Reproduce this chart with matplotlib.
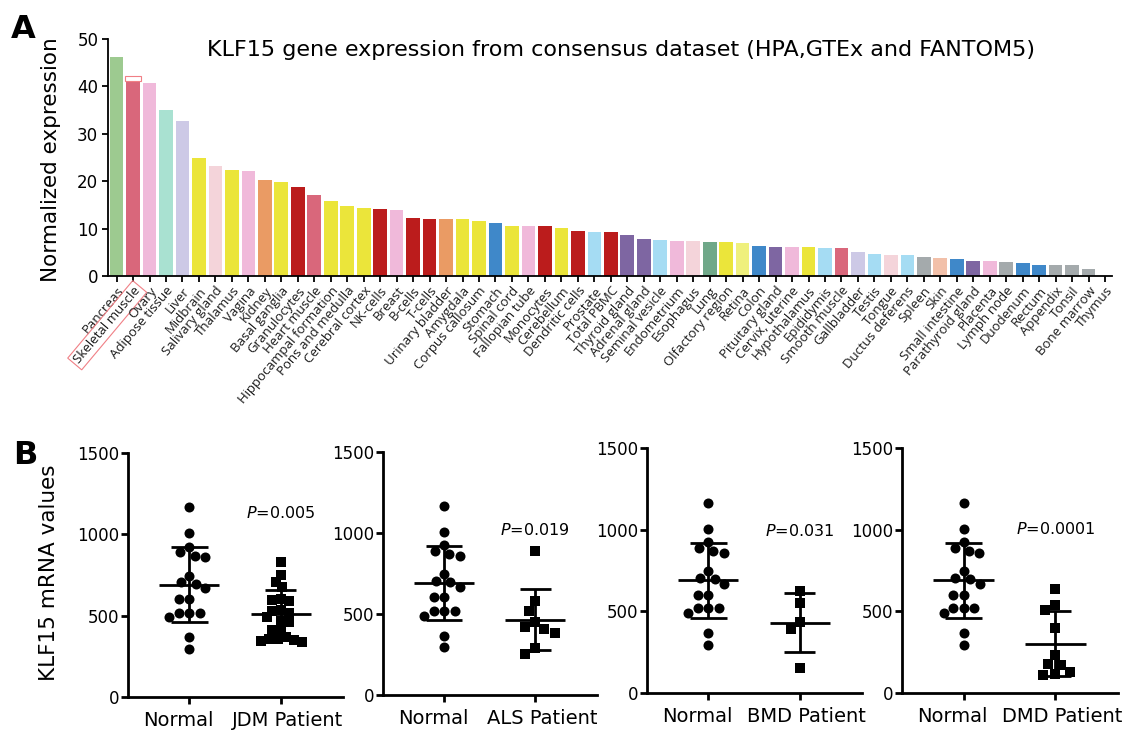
import numpy as np
import matplotlib
matplotlib.use("Agg")
import matplotlib.pyplot as plt
from matplotlib.patches import Rectangle
import matplotlib.transforms as mtransforms

# ---------------- Panel A data ----------------
tissues = ["Pancreas", "Skeletal muscle", "Ovary", "Adipose tissue", "Liver", "Midbrain",
           "Salivary gland", "Thalamus", "Vagina", "Kidney", "Basal ganglia", "Granulocytes",
           "Heart muscle", "Hippocampal formation", "Pons and medulla", "Cerebral cortex",
           "NK-cells", "Breast", "B-cells", "T-cells", "Urinary bladder", "Amygdala",
           "Corpus callosum", "Stomach", "Spinal cord", "Fallopian tube", "Monocytes",
           "Cerebellum", "Dendritic cells", "Prostate", "Total PBMC", "Thyroid gland",
           "Adrenal gland", "Seminal vesicle", "Endometrium", "Esophagus", "Lung",
           "Olfactory region", "Retina", "Colon", "Pituitary gland", "Cervix, uterine",
           "Hypothalamus", "Epididymis", "Smooth muscle", "Gallbladder", "Testis", "Tongue",
           "Ductus deferens", "Spleen", "Skin", "Small intestine", "Parathyroid gland",
           "Placenta", "Lymph node", "Duodenum", "Rectum", "Appendix", "Tonsil",
           "Bone marrow", "Thymus"]
expression = [46.3, 41.2, 40.7, 35.1, 32.6, 24.9, 23.2, 22.4, 22.1, 20.3, 19.9, 18.7,
              17.0, 15.9, 14.7, 14.3, 14.1, 13.9, 12.3, 12.1, 12.0, 12.0, 11.7, 11.2,
              10.6, 10.5, 10.5, 10.1, 9.5, 9.35, 9.2, 8.65, 7.8, 7.6, 7.45, 7.3, 7.2,
              7.1, 7.0, 6.3, 6.1, 6.1, 6.05, 6.0, 5.85, 5.1, 4.7, 4.4, 4.35, 4.0, 3.7,
              3.6, 3.2, 3.2, 2.9, 2.8, 2.4, 2.3, 2.3, 1.55, 0.0]
tissue_groups = ["pancreas", "muscle", "female", "adipose", "liver", "brain",
                 "oral", "brain", "female", "kidney", "brain", "blood",
                 "muscle", "brain", "brain", "brain",
                 "blood", "female", "blood", "blood", "kidney", "brain",
                 "brain", "gi", "brain", "female", "blood",
                 "brain", "blood", "male", "blood", "endocrine",
                 "endocrine", "male", "female", "oral", "lung",
                 "brain", "eye", "gi", "endocrine", "female",
                 "brain", "male", "muscle", "liver", "male", "oral",
                 "male", "lymphoid", "skin", "gi", "endocrine",
                 "female", "lymphoid", "gi", "gi", "lymphoid", "lymphoid",
                 "lymphoid", "lymphoid"]
group_colors = {"pancreas": "#9dca90", "muscle": "#d9677b", "female": "#f0b9da",
                "adipose": "#a9e1d1", "liver": "#cdc9e6", "brain": "#ebe53a",
                "oral": "#f4d4da", "kidney": "#ea9b64", "blood": "#bb1c1c",
                "gi": "#3f88c9", "male": "#a5dcf3", "endocrine": "#7e66a2",
                "lung": "#6fa889", "eye": "#eff07c", "lymphoid": "#a4aaac",
                "skin": "#f2c0a9"}
highlight_tissue = "Skeletal muscle"

# ---------------- Panel B data ----------------
normal_values = [1165, 1007, 925, 890, 869, 859, 746, 705, 695, 668, 602, 602,
                 518, 518, 518, 489, 366, 294]
jdm_values = [830, 750, 709, 678, 600, 592, 596, 535, 529, 518, 490, 469, 460,
              412, 412, 371, 355, 350, 345, 340, 355]
als_values = [888, 581, 520, 448, 417, 405, 384, 288, 251]
bmd_values = [622, 551, 435, 390, 155]
dmd_values = [639, 537, 506, 400, 235, 180, 173, 129, 108, 114]
patient_values = [jdm_values, als_values, bmd_values, dmd_values]
patient_labels = ["JDM Patient", "ALS Patient", "BMD Patient", "DMD Patient"]
p_labels = ["0.005", "0.019", "0.031", "0.0001"]
p_heights = [1130, 1017, 990, 1006]
b_yticks = [0, 500, 1000, 1500]

W, H = 1139, 735
fig = plt.figure(figsize=(W / 100, H / 100), dpi=100)
fig.patch.set_facecolor("white")

# ---------------- Panel A ----------------
axA = fig.add_axes([108 / W, 1 - 276 / H, (1112 - 108) / W, (276 - 39) / H])
xs = np.arange(len(tissues))
axA.bar(xs, expression, width=0.83,
        color=[group_colors[g] for g in tissue_groups], edgecolor="none", zorder=2)
axA.set_xlim(-0.52, len(tissues) - 1 + 0.42)
axA.set_ylim(0, 50)
axA.set_yticks([0, 10, 20, 30, 40, 50])
axA.tick_params(axis="y", labelsize=12, length=4, width=1.3, pad=3)
axA.tick_params(axis="x", length=4.5, width=1.3, pad=1.5)
axA.set_xticks(xs)
axA.set_xticklabels(tissues, rotation=50, ha="right", rotation_mode="anchor",
                    fontsize=9.5, family=["Open Sans", "DejaVu Sans"], color="#1a1a1a")
for s in ["top", "right"]:
    axA.spines[s].set_visible(False)
for s in ["left", "bottom"]:
    axA.spines[s].set_linewidth(1.3)

hi = tissues.index(highlight_tissue)
axA.add_patch(Rectangle((hi - 0.47, expression[hi]), 0.94, 1.0, fill=False,
                        edgecolor="#f07f85", linewidth=0.8, zorder=3))
lbl = axA.get_xticklabels()[hi]
lbl.set_bbox(dict(facecolor="none", edgecolor="#f07f85", linewidth=0.8,
                  boxstyle="square,pad=0.2"))

fig.text(621 / W, 1 - 50 / H,
         "KLF15 gene expression from consensus dataset (HPA,GTEx and FANTOM5)",
         ha="center", va="center", fontsize=16)
fig.text(51 / W, 1 - 160 / H, "Normalized expression", rotation=90,
         ha="center", va="center", fontsize=15.5)
fig.text(23 / W, 1 - 29 / H, "A", ha="center", va="center", fontsize=23,
         fontweight="bold")

# ---------------- Panel B ----------------
def swarm_positions(ax, center, vals, diam_px):
    vals = np.asarray(vals, float)
    pts = ax.transData.transform(np.column_stack([np.full(len(vals), center), vals]))
    ypx = pts[:, 1]
    order = np.argsort(-vals, kind="stable")
    placed = []
    off = np.zeros(len(vals))
    for i in order:
        y = ypx[i]
        cands = [0.0]
        for (xo, yo) in placed:
            dy = abs(y - yo)
            if dy < diam_px:
                dx = np.sqrt(diam_px ** 2 - dy ** 2)
                cands += [xo + dx, xo - dx]
        cands = sorted(cands, key=lambda c: (abs(c), c))
        chosen = cands[-1]
        for c in cands:
            if all((c - xo) ** 2 + (y - yo) ** 2 >= diam_px ** 2 - 1e-6 for xo, yo in placed):
                chosen = c
                break
        off[i] = chosen
        placed.append((chosen, y))
    x0 = ax.transData.transform((center, 0))[0]
    x1 = ax.transData.transform((center + 1, 0))[0]
    return center + off / (x1 - x0)


def mean_sd(ax, center, vals, half_mean, half_cap):
    m = np.mean(vals)
    sd = np.std(vals, ddof=1)
    kw = dict(color="black", linewidth=2.0, zorder=4, solid_capstyle="butt")
    ax.plot([center - half_mean, center + half_mean], [m, m], **kw)
    ax.plot([center, center], [m - sd, m + sd], **kw)
    ax.plot([center - half_cap, center + half_cap], [m + sd, m + sd], **kw)
    ax.plot([center - half_cap, center + half_cap], [m - sd, m - sd], **kw)


panel_boxes = [(128, 343, 453, 697), (383, 597, 452, 695),
               (647, 862, 448, 693), (902, 1118, 448, 693)]
patient_spacing = [8.5, 11.5, 11.5, 11.5]
for k, (l, r, t, b) in enumerate(panel_boxes):
    ax = fig.add_axes([l / W, 1 - b / H, (r - l) / W, (b - t) / H])
    ax.set_xlim(-0.67, 1.68)
    ax.set_ylim(0, 1500)
    ax.set_yticks(b_yticks)
    for s in ["top", "right"]:
        ax.spines[s].set_visible(False)
    for s in ["left", "bottom"]:
        ax.spines[s].set_linewidth(2.0)
    ax.tick_params(axis="both", length=5, width=2.0)
    ax.tick_params(axis="y", labelsize=12, pad=1)
    ax.tick_params(axis="x", labelsize=14, pad=5)
    ax.set_xticks([0, 1])
    ax.set_xticklabels(["Normal", patient_labels[k]])
    shifts = [-8, 5]
    for tl, sh in zip(ax.get_xticklabels(), shifts):
        tl.set_transform(tl.get_transform() +
                         mtransforms.ScaledTranslation(sh / 72, 0, fig.dpi_scale_trans))

    xn = swarm_positions(ax, 0, normal_values, 10.5)
    ax.scatter(xn, normal_values, s=52, marker="o", color="black", linewidths=0, zorder=3)
    pv = patient_values[k]
    xp = swarm_positions(ax, 1, pv, patient_spacing[k])
    ax.scatter(xp, pv, s=44, marker="s", color="black", linewidths=0, zorder=3)

    mean_sd(ax, 0, normal_values, 0.33, 0.2)
    mean_sd(ax, 1, pv, 0.33, 0.17)

    ax.text(1, p_heights[k], r"$P$=" + p_labels[k], ha="center", va="center",
            fontsize=11.5)

fig.text(49 / W, 1 - 573 / H, "KLF15 mRNA values", rotation=90,
         ha="center", va="center", fontsize=15.5)
fig.text(25 / W, 1 - 455 / H, "B", ha="center", va="center", fontsize=23,
         fontweight="bold")

fig.savefig("out.png", dpi=100, facecolor="white")
